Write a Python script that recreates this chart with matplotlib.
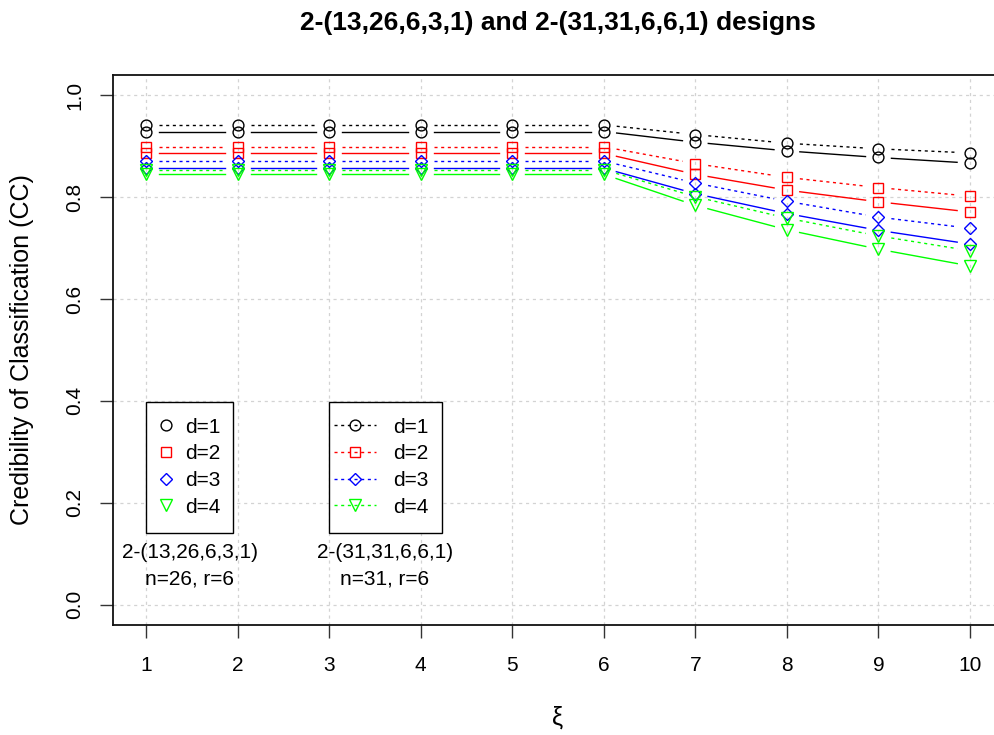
import numpy as np
import matplotlib
matplotlib.use("Agg")
import matplotlib.pyplot as plt
from matplotlib.lines import Line2D
from matplotlib.patches import Rectangle

plt.rcParams['font.family'] = ['Liberation Sans', 'DejaVu Sans']

# ---------------- data ----------------
xi = [1, 2, 3, 4, 5, 6, 7, 8, 9, 10]
d_labels = ["d=1", "d=2", "d=3", "d=4"]
colors = ["#000000", "#FF0000", "#0000FF", "#00FF00"]
markers = ["o", "s", "D", "v"]

# 2-(13,26,6,3,1) design, n=26, r=6 (solid lines)
cc_13_26_d1 = [0.929, 0.929, 0.929, 0.929, 0.929, 0.929, 0.908, 0.891, 0.878, 0.867]
cc_13_26_d2 = [0.886, 0.886, 0.886, 0.886, 0.886, 0.886, 0.845, 0.814, 0.791, 0.771]
cc_13_26_d3 = [0.857, 0.857, 0.857, 0.857, 0.857, 0.857, 0.807, 0.768, 0.735, 0.708]
cc_13_26_d4 = [0.845, 0.845, 0.845, 0.845, 0.845, 0.845, 0.784, 0.736, 0.698, 0.665]

# 2-(31,31,6,6,1) design, n=31, r=6 (dotted lines)
cc_31_31_d1 = [0.942, 0.942, 0.942, 0.942, 0.942, 0.942, 0.923, 0.906, 0.895, 0.887]
cc_31_31_d2 = [0.899, 0.899, 0.899, 0.899, 0.899, 0.899, 0.866, 0.839, 0.819, 0.802]
cc_31_31_d3 = [0.871, 0.871, 0.871, 0.871, 0.871, 0.871, 0.828, 0.792, 0.761, 0.739]
cc_31_31_d4 = [0.854, 0.854, 0.854, 0.854, 0.854, 0.854, 0.801, 0.759, 0.724, 0.695]

series_13_26 = [cc_13_26_d1, cc_13_26_d2, cc_13_26_d3, cc_13_26_d4]
series_31_31 = [cc_31_31_d1, cc_31_31_d2, cc_31_31_d3, cc_31_31_d4]

x_ticks = [1, 2, 3, 4, 5, 6, 7, 8, 9, 10]
y_ticks = [0.0, 0.2, 0.4, 0.6, 0.8, 1.0]
y_tick_labels = ["0.0", "0.2", "0.4", "0.6", "0.8", "1.0"]

title = "2-(13,26,6,3,1) and 2-(31,31,6,6,1) designs"
xlabel = "ξ"
ylabel = "Credibility of Classification (CC)"

# ---------------- figure ----------------
W, H = 995, 735
fig = plt.figure(figsize=(W / 100, H / 100), dpi=100)
ax = fig.add_axes([113 / W, 1 - 625 / H, (1003 - 113) / W, (625 - 75) / H])
ax.set_xlim(0.64, 10.36)
ax.set_ylim(-0.04, 1.04)

ax.grid(True, color="#D3D3D3", linestyle=(0, (2.5, 3)), linewidth=0.9)
ax.set_axisbelow(True)

ms = {"o": 7.8, "s": 6.8, "D": 6.2, "v": 9.2}
GAP = 13.0  # pixels of gap around points (R type="b")
DOT = (0, (2.2, 2.6))


def gapped(x, y, gap, **kw):
    pts = ax.transData.transform(np.column_stack([x, y]))
    inv = ax.transData.inverted()
    for p0, p1 in zip(pts[:-1], pts[1:]):
        d = p1 - p0
        L = np.hypot(*d)
        if L <= 2 * gap:
            continue
        u = d / L
        a = inv.transform(p0 + u * gap)
        b = inv.transform(p1 - u * gap)
        ax.plot([a[0], b[0]], [a[1], b[1]], **kw)


for vals, c, m in zip(series_13_26, colors, markers):
    gapped(xi, vals, GAP, color=c, lw=1.0, linestyle="-")
    ax.plot(xi, vals, linestyle="none", marker=m, ms=ms[m], mfc="none",
            mec=c, mew=1.0)
for vals, c, m in zip(series_31_31, colors, markers):
    gapped(xi, vals, GAP, color=c, lw=1.0, linestyle=DOT)
    ax.plot(xi, vals, linestyle="none", marker=m, ms=ms[m], mfc="none",
            mec=c, mew=1.0)

ax.set_xticks(x_ticks)
ax.set_xticklabels([str(v) for v in x_ticks])
ax.set_yticks(y_ticks)
ax.set_yticklabels(y_tick_labels, rotation=90, va="center")
ax.tick_params(axis="both", direction="out", length=9.5, width=1.0,
               labelsize=15, color="#333333")
ax.tick_params(axis="x", pad=13)
ax.tick_params(axis="y", pad=11)
for s in ax.spines.values():
    s.set_linewidth(1.3)
    s.set_color("#111111")

ax.set_xlabel(xlabel, fontsize=18)
ax.xaxis.set_label_coords(0.5, (625 - 718) / 550)
ax.xaxis.label.set_va("center")
ax.set_ylabel(ylabel, fontsize=18)
ax.yaxis.set_label_coords((22 - 113) / 890, 0.5)
ax.yaxis.label.set_va("center")

fig.text(558 / W, 1 - 23 / H, title, ha="center", va="center",
         fontsize=19, fontweight="bold")

# ---------------- legends ----------------
def box(x0, x1, y0, y1):
    r = Rectangle((x0 / W, 1 - y1 / H), (x1 - x0) / W, (y1 - y0) / H,
                  transform=fig.transFigure, facecolor="white",
                  edgecolor="black", lw=1.0, zorder=2)
    fig.add_artist(r)


box(145.7, 233.3, 401.7, 533.3)
box(329, 442.3, 401.7, 533.3)

h1 = [Line2D([], [], linestyle="none", marker=m, ms=ms[m], mfc="none",
             mec=c, mew=1.0) for c, m in zip(colors, markers)]
h2 = [Line2D([], [], linestyle=DOT, lw=1.0, color=c, marker=m, ms=ms[m],
             mfc="none", mec=c, mew=1.0) for c, m in zip(colors, markers)]

leg1 = fig.legend(h1, d_labels, loc="center left",
                  bbox_to_anchor=(155.3 / W, 1 - 467.2 / H),
                  frameon=False, fontsize=15, borderpad=0, borderaxespad=0,
                  handlelength=1.0, handletextpad=0.43, labelspacing=0.37)
leg1.set_zorder(3)
leg2 = fig.legend(h2, d_labels, loc="center left",
                  bbox_to_anchor=(334 / W, 1 - 467.2 / H),
                  frameon=False, fontsize=15, borderpad=0, borderaxespad=0,
                  handlelength=2.0, handletextpad=0.85, labelspacing=0.37)
leg2.set_zorder(3)

fig.text(190 / W, 1 - 553 / H, "2-(13,26,6,3,1)", ha="center", va="center", fontsize=15)
fig.text(190 / W, 1 - 579 / H, "n=26, r=6", ha="center", va="center", fontsize=15)
fig.text(385 / W, 1 - 553 / H, "2-(31,31,6,6,1)", ha="center", va="center", fontsize=15)
fig.text(385 / W, 1 - 579 / H, "n=31, r=6", ha="center", va="center", fontsize=15)

fig.savefig("out.png", dpi=100)
